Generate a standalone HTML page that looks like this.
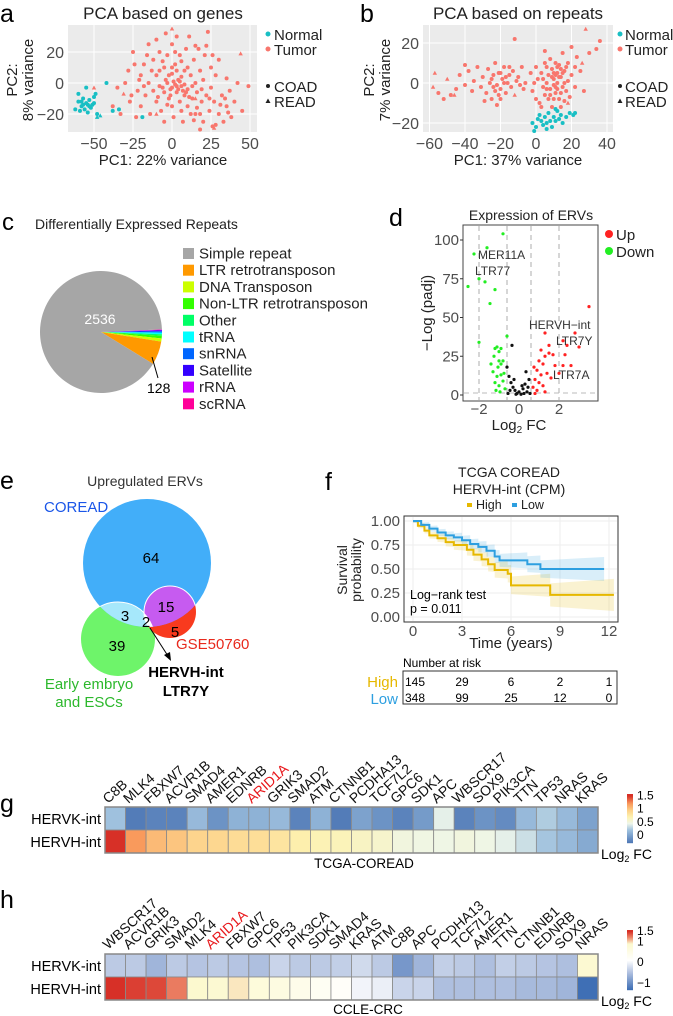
<!DOCTYPE html>
<html><head><meta charset="utf-8"><style>
body{margin:0;background:#fff}
svg{display:block;font-family:"Liberation Sans",Arial,sans-serif}
</style></head><body>
<svg id="fig" width="673" height="1016" viewBox="0 0 673 1016" xmlns="http://www.w3.org/2000/svg">
<!-- Panel a -->
<g>
<text x="0" y="22" font-size="25">a</text>
<text x="163" y="19" font-size="17" text-anchor="middle" fill="#222">PCA based on genes</text>
<rect x="68" y="25" width="189" height="107" fill="#ebebeb"/>
<g id="gridA"></g><g id="ptsA"></g>
<text x="163" y="165" font-size="15" text-anchor="middle" fill="#222">PC1: 22% variance</text>
<text transform="translate(17,80) rotate(-90)" font-size="15" text-anchor="middle" fill="#222">PC2:</text>
<text transform="translate(33,80) rotate(-90)" font-size="15" text-anchor="middle" fill="#222">8% variance</text>
<g font-size="15" fill="#222">
<circle cx="268" cy="34" r="2.5" fill="#19bfc4"/><text x="274" y="40">Normal</text>
<circle cx="268" cy="49" r="2.5" fill="#f8766d"/><text x="274" y="55">Tumor</text>
<circle cx="268" cy="86" r="2"/><text x="274" y="92">COAD</text>
<path d="M265.5,103 L268,98.5 L270.5,103Z"/><text x="274" y="107">READ</text>
</g>
</g>
<!-- Panel b -->
<g>
<text x="360" y="22" font-size="25">b</text>
<text x="518" y="19" font-size="17" text-anchor="middle" fill="#222">PCA based on repeats</text>
<rect x="423" y="25" width="190" height="107" fill="#ebebeb"/>
<g id="gridB"></g><g id="ptsB"></g>
<text x="518" y="165" font-size="15" text-anchor="middle" fill="#222">PC1: 37% variance</text>
<text transform="translate(374,80) rotate(-90)" font-size="15" text-anchor="middle" fill="#222">PC2:</text>
<text transform="translate(390,80) rotate(-90)" font-size="15" text-anchor="middle" fill="#222">7% variance</text>
<g font-size="15" fill="#222">
<circle cx="620" cy="34" r="2.5" fill="#19bfc4"/><text x="625" y="40">Normal</text>
<circle cx="620" cy="49" r="2.5" fill="#f8766d"/><text x="625" y="55">Tumor</text>
<circle cx="620" cy="86" r="2"/><text x="625" y="92">COAD</text>
<path d="M617.5,103 L620,98.5 L622.5,103Z"/><text x="625" y="107">READ</text>
</g>
</g>
<!-- Panel c -->
<g>
<text x="2" y="230" font-size="24">c</text>
<text x="35" y="229" font-size="14" fill="#222">Differentially Expressed Repeats</text>
<g id="pie"></g>
<text x="100" y="324" font-size="14" fill="#fff" text-anchor="middle">2536</text>
<line x1="152" y1="357" x2="158" y2="378" stroke="#000"/>
<text x="147" y="393" font-size="14">128</text>
<g id="pieLegend" font-size="15"></g>
</g>
<!-- Panel d -->
<g>
<text x="389" y="226" font-size="25">d</text>
<text x="531" y="220" font-size="14" text-anchor="middle" fill="#222">Expression of ERVs</text>
<rect x="463" y="225" width="135" height="176" fill="#fff" stroke="#444"/>
<g id="volc"></g>
<text transform="translate(432,313) rotate(-90)" font-size="15" text-anchor="middle" fill="#222">−Log (padj)</text>
<text x="519" y="430" font-size="15" text-anchor="middle" fill="#222">Log<tspan font-size="10" dy="3">2</tspan><tspan dy="-3"> FC</tspan></text>
<g font-size="15" fill="#222">
<circle cx="609" cy="234" r="4" fill="#f22"/><text x="616" y="240">Up</text>
<circle cx="609" cy="251" r="4" fill="#2e2"/><text x="616" y="257">Down</text>
</g>
<g font-size="12" fill="#333">
<text x="478" y="259">MER11A</text><text x="475" y="275">LTR77</text>
<text x="529" y="329">HERVH−int</text><text x="556" y="345">LTR7Y</text><text x="553" y="379">LTR7A</text>
</g>
</g>
<!-- Panel e -->
<g>
<text x="0" y="489" font-size="25">e</text>
<text x="145" y="486" font-size="14" text-anchor="middle" fill="#333">Upregulated ERVs</text>
<text x="44" y="512" font-size="15" fill="#1a56e8">COREAD</text>
<defs>
<clipPath id="cBlue"><circle cx="147" cy="563" r="64"/></clipPath>
<clipPath id="cGreen"><circle cx="118" cy="639" r="37"/></clipPath>
</defs>
<circle cx="118" cy="639" r="37" fill="#6ef46a"/>
<circle cx="170" cy="612" r="26" fill="#f83a1e"/>
<circle cx="147" cy="563" r="64" fill="#42aef9"/>
<g clip-path="url(#cBlue)"><circle cx="118" cy="639" r="37" fill="#a6e8fb" stroke="#fff"/><circle cx="170" cy="612" r="26" fill="#c65bf0" stroke="#fff"/>
<g clip-path="url(#cGreen)"><circle cx="170" cy="612" r="26" fill="#fff"/></g></g>
<g font-size="15" text-anchor="middle">
<text x="151" y="563">64</text><text x="166" y="612">15</text><text x="125" y="621">3</text><text x="146" y="627">2</text><text x="175" y="637">5</text><text x="117" y="651">39</text>
</g>
<line x1="150" y1="628" x2="168" y2="656" stroke="#000"/>
<path d="M171,661 L164,655 L170,652Z"/>
<text x="176" y="649" font-size="15" fill="#e8291c">GSE50760</text>
<text x="186" y="677" font-size="15" font-weight="bold" text-anchor="middle">HERVH-int</text>
<text x="186" y="696" font-size="15" font-weight="bold" text-anchor="middle">LTR7Y</text>
<text x="89" y="689" font-size="15" fill="#2cb82c" text-anchor="middle">Early embryo</text>
<text x="89" y="707" font-size="15" fill="#2cb82c" text-anchor="middle">and ESCs</text>
</g>
<!-- Panel f -->
<g>
<text x="325" y="490" font-size="25">f</text>
<text x="509" y="477" font-size="14" text-anchor="middle" fill="#222">TCGA COREAD</text>
<text x="509" y="494" font-size="14" text-anchor="middle" fill="#222">HERVH-int (CPM)</text>
<g font-size="12.5" fill="#222">
<rect x="467" y="503" width="5" height="4" fill="#e6b800"/><text x="476" y="509">High</text>
<rect x="512" y="503" width="5" height="4" fill="#2d9fe0"/><text x="521" y="509">Low</text>
</g>
<rect x="404" y="516" width="214" height="106" fill="#fff" stroke="#333"/>
<g id="surv"></g>
<text transform="translate(347,570) rotate(-90)" font-size="14" text-anchor="middle" fill="#222">Survival</text>
<text transform="translate(361,570) rotate(-90)" font-size="14" text-anchor="middle" fill="#222">probability</text>
<text x="511" y="648" font-size="15" text-anchor="middle" fill="#222">Time (years)</text>
<text x="410" y="599" font-size="12.5">Log−rank test</text>
<text x="410" y="613" font-size="12.5">p = 0.011</text>
<text x="403" y="667" font-size="12">Number at risk</text>
<rect x="403" y="671" width="214" height="33" fill="#fff" stroke="#333"/>
<g id="risk" font-size="12"></g>
<text x="398" y="687" font-size="15" fill="#e6b800" text-anchor="end">High</text>
<text x="398" y="704" font-size="15" fill="#2d9fe0" text-anchor="end">Low</text>
</g>
<!-- Panel g -->
<g>
<text x="0" y="812" font-size="25">g</text>
<g id="heatG"></g>
<text x="364" y="868" font-size="13.5" text-anchor="middle">TCGA-COREAD</text>
</g>
<!-- Panel h -->
<g>
<text x="0" y="908" font-size="25">h</text>
<g id="heatH"></g>
<text x="368" y="1014" font-size="13.5" text-anchor="middle">CCLE-CRC</text>
</g>
</svg>
<script>
// ---------- Data ----------
const aTumor=[[-35,-3],[-30,0],[-28,8],[-27,-12],[-25,20],[-22,-5],[-20,5],[-20,-15],[-18,12],[-17,-8],[-15,25],[-15,0],[-14,-20],[-12,15],[-12,-5],[-10,28],[-10,5],[-10,-12],[-8,20],[-8,-2],[-7,-18],[-5,10],[-5,-6],[-4,32],[-3,18],[-3,0],[-2,-10],[0,25],[0,6],[0,-3],[0,-15],[1,-22],[2,12],[3,-6],[3,30],[4,2],[5,-12],[5,18],[6,-2],[7,-25],[8,8],[8,-8],[9,22],[10,-4],[10,-15],[11,30],[12,5],[12,-20],[13,-10],[14,15],[15,0],[15,24],[16,-6],[16,-16],[17,22],[18,8],[19,-12],[20,-25],[20,2],[21,18],[22,-8],[23,33],[24,-18],[25,10],[25,-3],[26,-28],[27,-12],[28,5],[30,-20],[30,15],[32,-8],[33,-25],[35,-15],[35,3],[37,-5],[38,-22],[40,-12],[42,0],[45,-18],[49,-2],[-38,-15],[-33,-20],[-23,-22],[-5,-25],[18,-30],[28,-27],[-2,5],[2,-1],[4,-4],[6,4],[-6,-3],[1,1],[8,-1],[-1,-8],[3,8],[10,10],[13,-2],[-13,8],[-8,8],[-24,12],[-18,-2],[6,14],[18,-20],[22,24],[34,-10],[-3,-14],[14,-24],[26,18],[-16,18],[9,-6],[2,20],[-6,14],[-1,-4],[3,-2],[5,1],[-4,2],[7,-5],[0,10],[11,-9],[-9,-9],[19,-4],[24,-10],[-21,2],[-26,-8],[31,-14],[36,-19],[15,-20],[6,-18]];
const aTumorRead=[[-31,-7],[0,35],[44,19],[27,-29],[-10,-20],[15,-10],[-50,-3]];
const aNormal=[[-60,-12],[-58,-15],[-57,-10],[-56,-17],[-55,-13],[-54,-19],[-53,-11],[-52,-16],[-51,-14],[-59,-18],[-62,-17],[-60,-7],[-55,-3],[-50,-9],[-48,-20],[-42,0],[-38,-18],[-34,-17],[-19,-22],[-57,-14],[-53,-15],[-50,-13],[-49,-7],[-58,-12],[-54,-14]];
const aNormalRead=[[-46,-21],[-48,-22]];
const bTumor=[[-55,-5],[-52,-8],[-48,-6],[-45,-3],[-43,4],[-40,-1],[-38,6],[-36,-4],[-35,1],[-33,8],[-31,-2],[-30,3],[-28,-5],[-27,7],[-26,0],[-25,-8],[-24,4],[-23,10],[-22,-1],[-21,5],[-20,-3],[-19,2],[-18,8],[-17,-5],[-16,0],[-15,4],[-14,-2],[-13,6],[-12,22],[-11,1],[-10,3],[-9,-1],[-8,8],[-7,-3],[-6,0],[-22,-11],[-29,-9],[-40,9],[-20,-8],[-15,8],[-25,2],[-3,5],[-2,-4],[0,8],[0,-8],[1,2],[2,-10],[3,5],[4,-2],[5,10],[5,-6],[6,0],[7,4],[8,-3],[8,12],[9,7],[10,-1],[10,2],[11,-5],[12,5],[12,0],[13,-8],[13,9],[14,3],[15,-2],[15,15],[16,6],[17,-4],[18,1],[18,10],[19,-7],[20,4],[20,18],[22,-2],[22,8],[23,13],[25,6],[27,-4],[30,15],[34,17],[36,21],[5,16],[3,-12],[9,-12],[11,10],[14,-12],[6,8],[10,5],[12,-3],[7,-8],[16,0],[4,2],[-1,0],[-20,5],[-18,0],[-23,-4],[13,3],[11,-2],[14,7],[9,3],[8,-6],[15,5],[17,8],[12,8],[10,-8],[6,-3],[14,-5],[16,-9],[11,4],[-24,-2],[-17,3],[-21,-6]];
const bTumorRead=[[-57,5],[-50,2],[28,27],[-12,-6],[-58,-2],[-46,-6],[18,-10],[26,10]];
const bNormal=[[-2,-20],[0,-22],[1,-18],[3,-19],[4,-21],[5,-17],[6,-20],[7,-15],[8,-19],[9,-22],[10,-17],[11,-19],[12,-14],[13,-18],[14,-16],[15,-20],[17,-17],[19,-15],[21,-16],[22,-15],[-1,-24],[6,-23],[11,-13],[2,-16]];
const pieCategories=["scRNA","rRNA","Satellite","snRNA","tRNA","Other","Non-LTR retrotransposon","DNA Transposon","LTR retrotransposon","Simple repeat"];
const pieDegrees=[0.4,0.6,0.8,1.2,1.6,1.6,2.4,3,22.4,326];
const pieColors=["#ff0099","#cc00ff","#3300ff","#0066ff","#00ffff","#00ff66","#33ff00","#ccff00","#ff9900","#a6a6a6"];
const legendOrder=["Simple repeat","LTR retrotransposon","DNA Transposon","Non-LTR retrotransposon","Other","tRNA","snRNA","Satellite","rRNA","scRNA"];
const volcDown=[[-2.55,70],[-2.25,91],[-2.0,75],[-1.7,73],[-1.6,95],[-0.8,104],[-1.2,68],[-1.45,59],[-2.0,34],[-1.2,30],[-1.1,31],[-1.0,28],[-0.9,30],[-1.25,25],[-1.0,22],[-0.9,20],[-0.8,22],[-1.3,15],[-1.1,12],[-0.9,13],[-1.2,8],[-1.0,6],[-0.8,9],[-0.7,4],[-1.4,20],[-0.6,38],[-1.05,18],[-0.75,14],[-1.15,3],[-0.95,2]];
const volcUp=[[3.5,57],[1.3,40],[2.2,35],[1.5,32],[2.8,40],[3.0,31],[2.4,32],[2.3,26],[1.3,25],[1.5,27],[1.7,26],[1.0,22],[1.2,20],[1.8,19],[0.9,16],[1.1,13],[1.4,14],[2.0,14],[2.2,19],[2.6,19],[0.8,10],[1.0,8],[0.7,5],[1.2,6],[0.9,3],[1.6,11],[0.75,18],[1.1,29],[0.8,1],[1.3,2]];
const volcNs=[[-0.5,12],[-0.4,8],[-0.3,5],[-0.2,3],[0,2],[0.2,4],[0.3,7],[0.5,10],[0.4,2],[-0.1,1],[0.1,0.5],[-0.6,18],[-0.35,32],[0.35,15],[-0.25,10],[0.15,6],[-0.45,3],[0.45,5],[-0.55,1],[0.55,1],[0.25,1],[-0.15,0.5]];
const survHighT=[0,0.3,0.7,1,1.5,2,2.5,3.3,3.7,4.2,4.6,5,5.8,6,8.4,12.3];
const survHighS=[1,0.95,0.90,0.85,0.82,0.78,0.75,0.70,0.65,0.60,0.55,0.49,0.45,0.33,0.23,0.23];
const survLowT=[0,0.5,1,1.5,2,2.5,3,3.5,4,4.5,5,5.3,6.5,7,7.8,11.7];
const survLowS=[1,0.96,0.92,0.88,0.85,0.83,0.80,0.76,0.73,0.69,0.63,0.59,0.59,0.55,0.50,0.50];
const riskTimes=[0,3,6,9,12];
const riskHigh=[145,29,6,2,1];
const riskLow=[348,99,25,12,0];
const gGenes=["C8B","MLK4","FBXW7","ACVR1B","SMAD4","AMER1","EDNRB","ARID1A","GRIK3","SMAD2","ATM","CTNNB1","PCDHA13","TCF7L2","GPC6","SDK1","APC","WBSCR17","SOX9","PIK3CA","TTN","TP53","NRAS","KRAS"];
const gHERVK=[0.2,-0.25,-0.2,-0.2,0.15,-0.1,0.1,0.1,0.15,-0.2,0.1,-0.25,0.0,-0.1,-0.2,-0.05,0.42,-0.2,-0.1,-0.15,0.15,0.25,0.15,0.0];
const gHERVH=[1.5,1.2,1.05,1.0,0.92,0.9,0.86,0.85,0.8,0.72,0.68,0.66,0.62,0.58,0.5,0.48,0.47,0.5,0.47,0.42,0.34,0.22,0.15,0.05];
const hGenes=["WBSCR17","ACVR1B","GRIK3","SMAD2","MLK4","ARID1A","FBXW7","GPC6","TP53","PIK3CA","SDK1","SMAD4","KRAS","ATM","C8B","APC","PCDHA13","TCF7L2","AMER1","TTN","CTNNB1","EDNRB","SOX9","NRAS"];
const hHERVK=[-0.4,-0.4,-0.6,-0.4,-0.45,-0.4,-0.45,-0.5,-0.3,-0.4,-0.4,-0.35,-0.25,-0.4,-0.9,-0.6,-0.35,-0.4,-0.5,-0.35,-0.4,-0.45,-0.5,0.85];
const hHERVH=[1.5,1.45,1.42,1.25,0.9,0.85,0.95,0.7,0.6,0.45,0.3,0.2,0.0,-0.05,-0.3,-0.3,-0.5,-0.5,-0.5,-0.5,-0.55,-0.55,-0.6,-1.3];
// ---------- Helpers ----------
const NS="http://www.w3.org/2000/svg";
function mk(tag,attrs,parent){const e=document.createElementNS(NS,tag);for(const k in attrs)e.setAttribute(k,attrs[k]);parent.appendChild(e);return e;}
function lin(d0,d1,r0,r1){return v=>r0+(v-d0)*(r1-r0)/(d1-d0);}
// ---------- PCA ----------
function pca(gridId,ptsId,xs,ys,box,xt,yt,sets){
  const g=document.getElementById(gridId),p=document.getElementById(ptsId);
  xt.forEach(t=>{const X=xs(t);
    const l=mk('line',{x1:X,x2:X,y1:box.t,y2:box.b,stroke:'#fff','stroke-width':1},g);
    
    
    const tx=mk('text',{x:X,y:box.b+17,'font-size':16,'text-anchor':'middle',fill:'#4d4d4d'},g);tx.textContent=(t<0?'−'+(-t):t);
    
    });
  yt.forEach(t=>{const Y=ys(t);
    const l=mk('line',{x1:box.l,x2:box.r,y1:Y,y2:Y,stroke:'#fff','stroke-width':1},g);
    
    
    const tx=mk('text',{x:box.l-4,y:Y+6,'font-size':16,'text-anchor':'end',fill:'#4d4d4d'},g);tx.textContent=(t<0?'−'+(-t):t);
    
    });
  sets.forEach(s=>s.data.forEach(d=>{const X=xs(d[0]),Y=ys(d[1]);let e;
    if(s.tri)e=mk('path',{d:`M${X-2.2},${Y+1.8}L${X},${Y-2.2}L${X+2.2},${Y+1.8}Z`,fill:s.c},p);
    else e=mk('circle',{cx:X,cy:Y,r:2,fill:s.c},p);
    
    }));
}
pca('gridA','ptsA',lin(0,50,172,250),lin(0,20,83,52),{l:68,r:257,t:25,b:132},[-50,-25,0,25,50],[-20,0,20],
 [{data:aTumor,c:'#f8766d'},{data:aTumorRead,c:'#f8766d',tri:1},{data:aNormal,c:'#19bfc4'},{data:aNormalRead,c:'#19bfc4',tri:1}]);
pca('gridB','ptsB',lin(0,40,536,607),lin(0,20,83,43),{l:423,r:613,t:25,b:132},[-60,-40,-20,0,20,40],[-20,0,20],
 [{data:bTumor,c:'#f8766d'},{data:bTumorRead,c:'#f8766d',tri:1},{data:bNormal,c:'#19bfc4'}]);
// ---------- Pie ----------
(function(){const g=document.getElementById('pie');const cx=101,cy=332,r=61;let a=-2.5;
 pieDegrees.forEach((d,i)=>{const a0=a*Math.PI/180,a1=(a+d)*Math.PI/180;a+=d;
  const large=d>180?1:0;
  const e=mk('path',{d:`M${cx},${cy}L${cx+r*Math.cos(a0)},${cy+r*Math.sin(a0)}A${r},${r} 0 ${large} 1 ${cx+r*Math.cos(a1)},${cy+r*Math.sin(a1)}Z`,fill:pieColors[i]},g);
  
  });
 const L=document.getElementById('pieLegend');
 legendOrder.forEach((n,i)=>{const y=253+i*16.7;const c=pieColors[pieCategories.indexOf(n)];
  const r1=mk('rect',{x:183,y:y-5,width:11,height:11,fill:c},L);
  
  
  const t=mk('text',{x:199,y:y+5.5,fill:'#222'},L);t.textContent=n;
  
  });
})();
// ---------- Volcano ----------
(function(){const g=document.getElementById('volc');const xs=lin(0,2,519,559),ys=lin(0,100,395,240);
 [-2,-0.6,0.6,2].forEach(v=>{const l=mk('line',{x1:xs(v),x2:xs(v),y1:226,y2:400,stroke:'#bbb','stroke-dasharray':'5,4','stroke-width':1.2},g);
  
  });
 const h=mk('line',{x1:464,x2:597,y1:ys(1.3),y2:ys(1.3),stroke:'#bbb','stroke-dasharray':'5,4'},g);
 
 
 [0,25,50,75,100].forEach(t=>{const tx=mk('text',{x:459,y:ys(t)+5,'font-size':15,'text-anchor':'end',fill:'#4d4d4d'},g);tx.textContent=t;
  
  
  const tk=mk('line',{x1:460,x2:463,y1:ys(t),y2:ys(t),stroke:'#333'},g);
  
  });
 [-2,0,2].forEach(t=>{const tx=mk('text',{x:xs(t),y:414,'font-size':15,'text-anchor':'middle',fill:'#4d4d4d'},g);tx.textContent=(t<0?'−2':t);
  
  });
 [[volcNs,'#111'],[volcDown,'#2e2'],[volcUp,'#f22']].forEach(s=>s[0].forEach(d=>{
  const c=mk('circle',{cx:xs(d[0]),cy:ys(d[1]),r:1.6,fill:s[1]},g);
  
  }));
})();
// ---------- Survival ----------
(function(){const g=document.getElementById('surv');const xs=lin(0,12,413,609),ys=lin(0,1,617,521);
 [0,3,6,9,12].forEach(t=>{const l=mk('line',{x1:xs(t),x2:xs(t),y1:517,y2:621,stroke:'#eee'},g);
  
  
  const tx=mk('text',{x:xs(t),y:636,'font-size':15,'text-anchor':'middle',fill:'#4d4d4d'},g);tx.textContent=t;
  
  });
 [0,0.25,0.5,0.75,1].forEach(v=>{const l=mk('line',{x1:405,x2:617,y1:ys(v),y2:ys(v),stroke:'#eee'},g);
  
  
  const tx=mk('text',{x:400,y:ys(v)+5,'font-size':15,'text-anchor':'end',fill:'#4d4d4d'},g);tx.textContent=v.toFixed(2);
  
  });
 function stepPts(T,S){let pts=[];for(let i=0;i<T.length;i++){if(i>0)pts.push([T[i],S[i-1]]);pts.push([T[i],S[i]]);}return pts;}
 function band(T,S,k,col){const pts=stepPts(T,S);const up=pts.map(p=>[xs(p[0]),ys(Math.min(1,p[1]+0.02+k*p[0]))]);const lo=pts.map(p=>[xs(p[0]),ys(Math.max(0,p[1]-0.02-k*p[0]))]).reverse();
  const e=mk('polygon',{points:up.concat(lo).map(p=>p.join(',')).join(' '),fill:col,opacity:0.18},g);
  
  }
 band(survHighT,survHighS,0.012,'#e6b800');band(survLowT,survLowS,0.009,'#2d9fe0');
 [[survHighT,survHighS,'#e6b800','curve-high'],[survLowT,survLowS,'#2d9fe0','curve-low']].forEach(c=>{
  const pts=stepPts(c[0],c[1]);
  const e=mk('polyline',{points:pts.map(p=>xs(p[0])+','+ys(p[1])).join(' '),fill:'none',stroke:c[2],'stroke-width':2},g);
  
  });
 const R=document.getElementById('risk');
 riskTimes.forEach((t,i)=>{[[riskHigh,686],[riskLow,702]].forEach(r=>{
  const X=i==0?405:xs(t);
  const tx=mk('text',{x:X,y:r[1],'text-anchor':i==0?'start':'middle'},R);tx.textContent=r[0][i];
  
  });});
})();
// ---------- Heatmaps ----------
function hex(c){return [parseInt(c.slice(1,3),16),parseInt(c.slice(3,5),16),parseInt(c.slice(5,7),16)];}
function scale(stops){return v=>{if(v<=stops[0][0])return stops[0][1];for(let i=1;i<stops.length;i++){if(v<=stops[i][0]){const t=(v-stops[i-1][0])/(stops[i][0]-stops[i-1][0]);const a=hex(stops[i-1][1]),b=hex(stops[i][1]);return 'rgb('+a.map((x,j)=>Math.round(x+(b[j]-x)*t)).join(',')+')';}}return stops[stops.length-1][1];};}
const gScale=scale([[-0.3,'#4a74b4'],[0.2,'#9fc1de'],[0.45,'#eef6ea'],[0.7,'#fdf2b0'],[0.95,'#fdd088'],[1.2,'#f99a5c'],[1.5,'#d73027']]);
const hScale=scale([[-1.3,'#3f6fb5'],[-0.5,'#aebfdf'],[0.1,'#ffffff'],[0.9,'#fcf9cf'],[1.2,'#ee8a6c'],[1.5,'#d73027']]);
function heat(id,genes,k,hv,sc,top,labY,cbTop,cbBot,cbStops,cbTicks,cbSc){
 const g=document.getElementById(id);const x0=105,w=493/genes.length,rh=23;
 genes.forEach((n,i)=>{
  const tx=mk('text',{transform:`translate(${x0+i*w+3},${labY}) rotate(-42)`,'font-size':14,fill:n=='ARID1A'?'#e8171b':'#111'},g);tx.textContent=n;
  
  
  [[k,0],[hv,1]].forEach(r=>{const c=mk('rect',{x:x0+i*w,y:top+r[1]*rh,width:w,height:rh,fill:sc(r[0][i]),stroke:'#8a8a8a','stroke-width':0.8},g);
   
   });
 });
 const b=mk('rect',{x:x0,y:top,width:493,height:2*rh,fill:'none',stroke:'#888','stroke-width':1.5},g);
 
 
 ['HERVK-int','HERVH-int'].forEach((n,i)=>{const tx=mk('text',{x:101,y:top+i*rh+17,'font-size':14.5,'text-anchor':'end'},g);tx.textContent=n;
  
  });
 const vs=lin(cbStops[0],cbStops[1],cbBot,cbTop);
 for(let y=cbTop;y<cbBot;y+=1){const v=cbStops[0]+(cbBot-y)/(cbBot-cbTop)*(cbStops[1]-cbStops[0]);
  const r=mk('rect',{x:627,y:y,width:6,height:1.2,fill:cbSc(v)},g);
  
  }
 cbTicks.forEach(t=>{const tx=mk('text',{x:637,y:vs(t)+4,'font-size':12},g);tx.textContent=(t<0?'−'+(-t):t);
  
  });
 const L=mk('text',{x:601,y:cbBot+16,'font-size':14},g);L.innerHTML='Log<tspan font-size="9" dy="3">2</tspan><tspan dy="-3"> FC</tspan>';
 
 
}
heat('heatG',gGenes,gHERVK,gHERVH,gScale,807,804,794,843,[-0.3,1.55],[1.5,1,0.5,0],gScale);
heat('heatH',hGenes,hHERVK,hHERVH,hScale,954,950,930,990,[-1.35,1.55],[1.5,1,0,-1],hScale);
</script>
</body></html>
